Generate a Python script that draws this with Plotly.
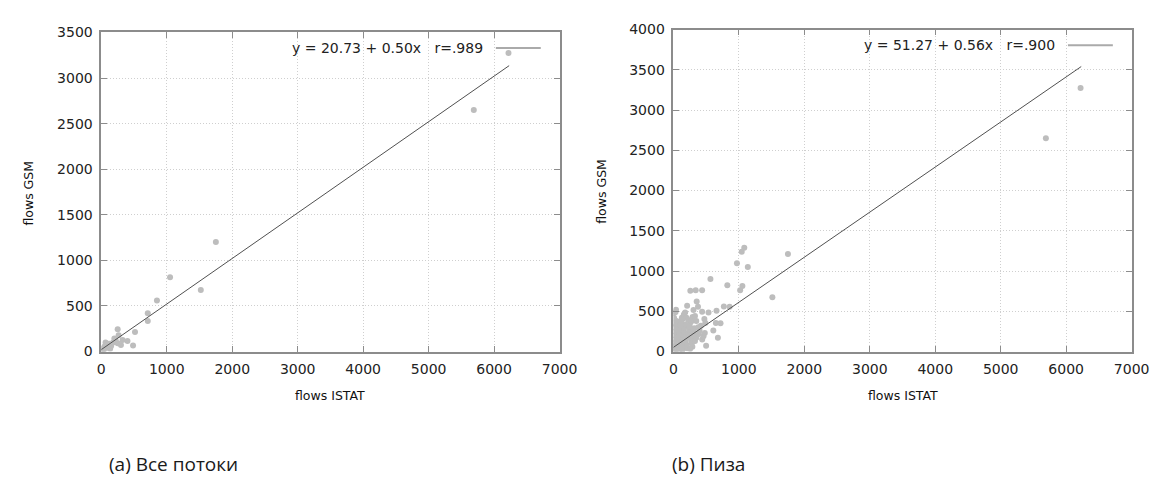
import plotly.graph_objects as go

# ---------------- data ----------------
x_tick_vals = [0, 1000, 2000, 3000, 4000, 5000, 6000, 7000]
y_tick_vals_a = [0, 500, 1000, 1500, 2000, 2500, 3000, 3500]
y_tick_vals_b = [0, 500, 1000, 1500, 2000, 2500, 3000, 3500, 4000]

# (a) all flows
all_istat = [6220, 5690, 1750, 1050, 1520, 850, 710, 710, 515, 485, 250, 265, 400, 325,
             300, 200, 65, 50, 135, 25, 250, 150, 100, 180, 40, 10, 90, 120, 220, 30]
all_gsm = [3275, 2650, 1200, 815, 675, 560, 420, 335, 215, 65, 243, 178, 114, 125,
           71, 143, 100, 54, 29, 7, 90, 60, 40, 100, 20, 5, 70, 85, 120, 35]

# (b) Pisa
pisa_istat = [6220, 5690, 1750, 1083, 1044, 971, 1137, 566, 824, 1054, 1020, 1512,
              259, 341, 439, 210, 356, 376, 771, 859, 34, 180, 307, 439, 537, 659,
              473, 293, 146, 49, 649, 488, 610, 680, 500, 720, 390, 317, 220, 244,
              40, 5, 10, 15, 20, 25, 30, 12, 8, 50, 60, 70, 80, 90, 100, 45, 55, 75,
              85, 95, 105, 115, 125, 135, 140, 150, 160, 170, 180, 190, 200, 210, 220,
              230, 240, 250, 260, 270, 280, 290, 300, 310, 320, 330, 350, 370, 400,
              420, 440, 460, 480, 30, 40, 65, 110, 120, 130, 160, 200, 230, 280, 330,
              350, 380, 10, 15, 35, 60, 90, 140, 175, 205, 255, 300]
pisa_gsm = [3275, 2650, 1210, 1290, 1240, 1097, 1050, 900, 823, 815, 760, 675,
            755, 760, 760, 570, 620, 557, 560, 555, 490, 485, 515, 494, 485, 506,
            405, 430, 409, 380, 354, 354, 262, 170, 70, 350, 220, 135, 219, 304,
            520, 20, 60, 110, 150, 200, 250, 300, 350, 30, 80, 130, 180, 230, 280,
            330, 360, 300, 260, 200, 150, 100, 60, 20, 160, 210, 250, 300, 340, 120,
            80, 40, 180, 220, 270, 310, 360, 150, 100, 60, 200, 240, 290, 130, 170,
            210, 260, 320, 150, 190, 230, 40, 90, 170, 330, 380, 420, 460, 420, 390,
            380, 440, 380, 300, 420, 480, 10, 45, 15, 25, 95, 55, 30, 270, 110]

fit_x_range = [0, 6230]
fit_all = [20.73, 0.50]
fit_pisa = [51.27, 0.56]
legend_all = "y = 20.73 + 0.50x   r=.989"
legend_pisa = "y = 51.27 + 0.56x   r=.900"
x_title = "flows ISTAT"
y_title = "flows GSM"
caption_a = "(a) Все потоки"
caption_b = "(b) Пиза"

# ---------------- figure ----------------
W, H = 1175, 483
POINT = "#bdbdbd"
FIT = "#505050"
AXC = "#8c8c8c"
GRID = "#cfcfcf"
TICKFONT = dict(family="DejaVu Sans", size=14, color="#222222")

fig = go.Figure()
fig.add_trace(go.Scatter(x=all_istat, y=all_gsm, mode="markers",
                         marker=dict(size=6, color=POINT), xaxis="x", yaxis="y"))
fig.add_trace(go.Scatter(x=fit_x_range,
                         y=[fit_all[0] + fit_all[1] * v for v in fit_x_range],
                         mode="lines", line=dict(color=FIT, width=1), xaxis="x", yaxis="y"))
fig.add_trace(go.Scatter(x=pisa_istat, y=pisa_gsm, mode="markers",
                         marker=dict(size=6, color=POINT), xaxis="x2", yaxis="y2"))
fig.add_trace(go.Scatter(x=fit_x_range,
                         y=[fit_pisa[0] + fit_pisa[1] * v for v in fit_x_range],
                         mode="lines", line=dict(color=FIT, width=1), xaxis="x2", yaxis="y2"))


def ax(domain, rng, vals, anchor):
    return dict(domain=domain, range=rng, tickvals=vals, ticktext=[str(v) for v in vals],
                showline=True, linecolor=AXC, linewidth=1.5, mirror="ticks",
                ticks="inside", ticklen=6, tickcolor=AXC, tickwidth=1,
                showgrid=True, gridcolor=GRID, griddash="1px,2px", gridwidth=1,
                zeroline=False, tickfont=TICKFONT, anchor=anchor, fixedrange=True,
                ticklabelstandoff=4)


xa = [91 / W, 558 / W]
xb = [674 / W, 1141 / W]
ya = [(H - 347) / H, (H - 17) / H]
yb = [(H - 347) / H, (H - 14) / H]

fig.update_layout(
    width=W, height=H, margin=dict(l=0, r=0, t=0, b=0),
    paper_bgcolor="white", plot_bgcolor="white", showlegend=False,
    xaxis=ax(xa, [0, 7000], x_tick_vals, "y"),
    yaxis=ax(ya, [0, 3500], y_tick_vals_a, "x"),
    xaxis2=ax(xb, [0, 7000], x_tick_vals, "y2"),
    yaxis2=ax(yb, [0, 4000], y_tick_vals_b, "x2"),
)

ann = []
shapes = []
for xr, yr, txt in [("x domain", "y domain", legend_all), ("x2 domain", "y2 domain", legend_pisa)]:
    ann.append(dict(xref=xr, yref=yr, x=0.838, y=0.951, xanchor="right", yanchor="middle",
                    text=txt, showarrow=False,
                    font=dict(family="DejaVu Sans", size=14, color="#222222")))
    shapes.append(dict(type="line", xref=xr, yref=yr, x0=0.861, x1=0.959, y0=0.951, y1=0.951,
                       line=dict(color="#aaaaaa", width=2)))

# axis titles
for xc, yc in [(17, 183), (600, 181)]:
    ann.append(dict(xref="paper", yref="paper", x=xc / W, y=(H - yc) / H, text=y_title,
                    textangle=-90, showarrow=False, xanchor="center", yanchor="middle",
                    font=dict(family="DejaVu Sans", size=12.5, color="#111111")))
for xc in [324.5, 907.5]:
    ann.append(dict(xref="paper", yref="paper", x=xc / W, y=(H - 393) / H, text=x_title,
                    showarrow=False, xanchor="center", yanchor="middle",
                    font=dict(family="DejaVu Sans", size=12.5, color="#111111")))
# captions
for xc, txt in [(97, caption_a), (671, caption_b)]:
    ann.append(dict(xref="paper", yref="paper", x=xc / W, y=(H - 463) / H, text=txt,
                    showarrow=False, xanchor="left", yanchor="middle",
                    font=dict(family="Open Sans", size=19, color="#1a1a1a")))

fig.update_layout(annotations=ann, shapes=shapes)
fig.write_html("out.html")
